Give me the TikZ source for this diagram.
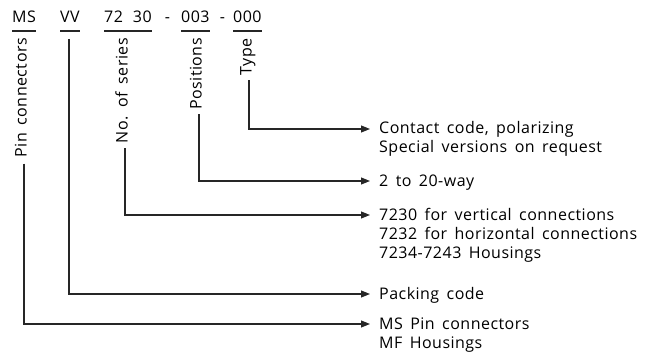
\documentclass[tikz,border=0pt]{standalone}
\usepackage{fontspec}
\setmainfont{Open Sans}[LetterSpace=3,WordSpace=1.6]
\usetikzlibrary{arrows.meta,calc}
\begin{document}
\begin{tikzpicture}[x=1pt,y=-1pt,
  lbl/.style={inner sep=0pt, font=\fontsize{16}{19}\selectfont},
  rot/.style={lbl, rotate=90, anchor=mid east},
  desc/.style={lbl, anchor=base west, text height=12pt, text depth=2pt},
  conn/.style={line width=1.1pt, draw=black!85, -{Triangle[length=9pt,width=7pt]}, shorten >=9pt},
  uline/.style={line width=1.1pt, draw=black!85}]
\useasboundingbox[fill=white] (0,0) rectangle (657,361);

% code row
\node[lbl, anchor=base west] (ms) at (12,23) {MS};
\node[lbl, anchor=base west] (vv) at (60,23) {VV};
\node[lbl, anchor=base west] (ser) at (104,23) {72 \hspace{2.5pt}30};
\node[lbl, anchor=base] (d1) at (167.5,23) {-};
\node[lbl, anchor=base west] (pos) at (181,23) {003};
\node[lbl, anchor=base] (d2) at (222.5,23) {-};
\node[lbl, anchor=base west] (typ) at (233,23) {000};
\foreach \n in {ms,vv,ser,pos,typ}
  \draw[uline] ($(\n.base west)+(0,8)$) -- ($(\n.base east)+(0,8)$);

% rotated labels
\node[rot] (pin) at (24,38) {Pin connectors};
\node[rot] (nos) at (125,38) {No. of series};
\node[rot] (posl) at (199,38) {Positions};
\node[rot] (typel) at (249,38) {Type};
\coordinate (vvtop) at (69,39);

% descriptions
\node[desc] (contact) at (379,134) {Contact code, polarizing};
\node[desc] (special) at (379,153) {Special versions on request};
\node[desc] (way) at (379,186) {2 to 20-way};
\node[desc] (v7230) at (379,220) {7230 for vertical connections};
\node[desc] (h7232) at (379,239) {7232 for horizontal connections};
\node[desc] (h7234) at (379,258) {7234-7243 Housings};
\node[desc] (packing) at (379,299) {Packing code};
\node[desc] (mspin) at (379,329) {MS Pin connectors};
\node[desc] (mf) at (379,348) {MF Housings};

% connectors
\draw[conn] ($(typel.mid west)+(0,5)$) |- (contact.west);
\draw[conn] ($(posl.mid west)+(0,4)$) |- (way.west);
\draw[conn] ($(nos.mid west)+(0,5)$) |- (v7230.west);
\draw[conn] (vvtop) |- (packing.west);
\draw[conn] ($(pin.mid west)+(0,6)$) |- (mspin.west);
\end{tikzpicture}
\end{document}
